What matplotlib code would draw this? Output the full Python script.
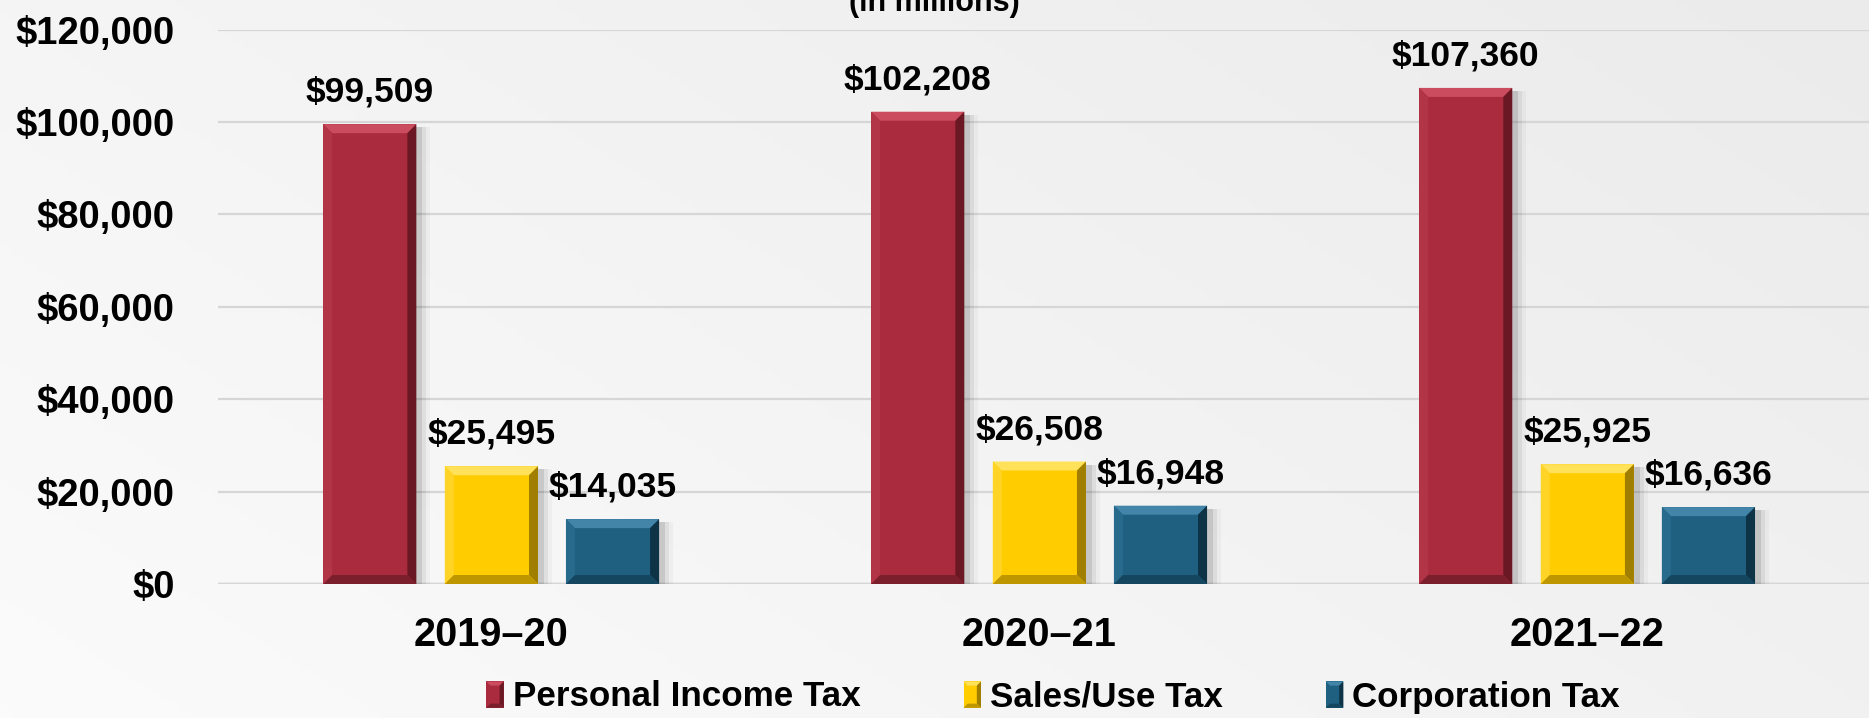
import numpy as np
import matplotlib
matplotlib.use("Agg")
import matplotlib.pyplot as plt
from matplotlib.colors import LinearSegmentedColormap
from matplotlib.patches import Polygon, Rectangle
from matplotlib.legend_handler import HandlerBase

years = ['2019–20', '2020–21', '2021–22']
series = ['Personal Income Tax', 'Sales/Use Tax', 'Corporation Tax']
personal_income = [99509, 102208, 107360]
sales_use = [25495, 26508, 25925]
corporation = [14035, 16948, 16636]
y_ticks = [0, 20000, 40000, 60000, 80000, 100000, 120000]

# base, top bevel, left bevel, right bevel, bottom bevel
palette = {
    'Personal Income Tax': ['#A92B3D', '#CB4C5E', '#B23547', '#6A1823', '#7C1F2C'],
    'Sales/Use Tax': ['#FFCC00', '#FFE15A', '#FFD426', '#A07E00', '#BE9600'],
    'Corporation Tax': ['#1F5F80', '#4285A8', '#286A8C', '#0E3246', '#15465F'],
}

font = 'Liberation Sans'

W, H, DPI = 1869, 718, 100
fig = plt.figure(figsize=(W / DPI, H / DPI), dpi=DPI)

# soft grey backdrop
bg = fig.add_axes([0, 0, 1, 1], zorder=-5)
gx, gy = np.meshgrid(np.linspace(0, 1, 300), np.linspace(0, 1, 120))
grad = 0.62 * gx + 0.38 * (1 - gy)
bg.imshow(grad, cmap=LinearSegmentedColormap.from_list('bgc', ['#fbfbfb', '#ebebeb']),
          aspect='auto', extent=[0, 1, 0, 1], origin='upper')
bg.axis('off')

left, right = 218 / W, 1.0
bottom, top = 1 - 584 / H, 1 - 29.5 / H
ax = fig.add_axes([left, bottom, right - left, top - bottom])
ax.patch.set_alpha(0)
xlim = (-0.499, 2.514)
ylim = (0, 120000)
ax.set_xlim(*xlim)
ax.set_ylim(*ylim)

px_x = (right - left) * W / (xlim[1] - xlim[0])
px_y = (top - bottom) * H / (ylim[1] - ylim[0])
bev_x, bev_y = 9 / px_x, 9 / px_y

x = np.arange(len(years))
width = 0.17
offsets = [-0.222, 0, 0.221]
values = [personal_income, sales_use, corporation]

for name, vals, off in zip(series, values, offsets):
    base, c_top, c_left, c_right, c_bot = palette[name]
    bars = ax.bar(x + off, vals, width, color=base, zorder=3)
    for b, v in zip(bars, vals):
        x0, x1 = b.get_x(), b.get_x() + b.get_width()
        y0, y1 = 0, b.get_height()
        # drop shadow on the right
        for k, a in [(6, 0.10), (10, 0.06), (14, 0.03)]:
            ax.add_patch(Rectangle((x1, y0), k / px_x, y1 - 3 / px_y,
                                   color='black', alpha=a, lw=0, zorder=2))
        faces = [
            ([(x0, y1), (x1, y1), (x1 - bev_x, y1 - bev_y), (x0 + bev_x, y1 - bev_y)], c_top),
            ([(x0, y0), (x0, y1), (x0 + bev_x, y1 - bev_y), (x0 + bev_x, y0 + bev_y)], c_left),
            ([(x1, y0), (x1, y1), (x1 - bev_x, y1 - bev_y), (x1 - bev_x, y0 + bev_y)], c_right),
            ([(x0, y0), (x1, y0), (x1 - bev_x, y0 + bev_y), (x0 + bev_x, y0 + bev_y)], c_bot),
        ]
        for pts, col in faces:
            ax.add_patch(Polygon(pts, closed=True, facecolor=col, edgecolor='none', zorder=4))
        ax.annotate(f"${v:,.0f}", (b.get_x() + b.get_width() / 2, v),
                    xytext=(0, 16), textcoords='offset points', ha='center', va='baseline',
                    fontsize=25.5, fontweight='bold', family=font, zorder=5)

ax.set_yticks(y_ticks)
ax.set_yticklabels([f"${t:,.0f}" for t in y_ticks], fontsize=27.5, fontweight='bold', family=font)
ax.yaxis.grid(True, color='#d6d6d6', lw=1.6, zorder=0)
ax.axhline(0, color='#cdcdcd', lw=2.5, zorder=1)
ax.tick_params(axis='y', length=0, pad=31)

ax.set_xticks(x)
ax.set_xticklabels(years, fontsize=28.5, fontweight='bold', family=font)
ax.tick_params(axis='x', length=0, pad=23)

for s in ax.spines.values():
    s.set_visible(False)

fig.text(0.5, 1 - 11 / H, '(in millions)', ha='center', va='baseline',
         fontsize=22, fontweight='bold', family=font)


class BevelHandler(HandlerBase):
    def create_artists(self, legend, orig_handle, xdescent, ydescent, width, height, fontsize, trans):
        cols = orig_handle.cols
        w, h = width, height * 1.25
        x0, y0 = -xdescent, -ydescent - height * 0.15
        x1, y1 = x0 + w, y0 + h
        b = 3
        arts = [Rectangle((x0, y0), w, h, facecolor=cols[0], edgecolor='none', transform=trans)]
        faces = [
            ([(x0, y1), (x1, y1), (x1 - b, y1 - b), (x0 + b, y1 - b)], cols[1]),
            ([(x1, y0), (x1, y1), (x1 - b, y1 - b), (x1 - b, y0 + b)], cols[3]),
            ([(x0, y0), (x1, y0), (x1 - b, y0 + b), (x0 + b, y0 + b)], cols[4]),
        ]
        for pts, col in faces:
            arts.append(Polygon(pts, closed=True, facecolor=col, edgecolor='none', transform=trans))
        return arts


handles = []
for name in series:
    h = Rectangle((0, 0), 1, 1)
    h.cols = palette[name]
    handles.append(h)

fig.legend(handles, series, handler_map={Rectangle: BevelHandler()},
           loc='center', bbox_to_anchor=(1053 / W, 1 - 697 / H), ncol=3, frameon=False,
           prop={'family': font, 'weight': 'bold', 'size': 25.2},
           handlelength=0.5, handleheight=0.55, handletextpad=0.25, columnspacing=2.95,
           borderpad=0, borderaxespad=0)

fig.savefig('out.png', dpi=DPI)
